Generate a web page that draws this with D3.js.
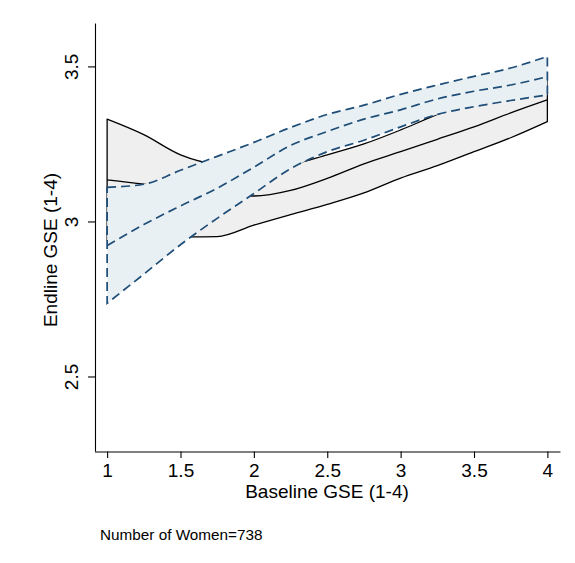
<!DOCTYPE html>
<html>
<head>
<meta charset="utf-8">
<script src="https://cdn.jsdelivr.net/npm/d3@7"></script>
<style>
  html, body { margin: 0; padding: 0; background: #ffffff; }
  svg { display: block; }
  text { font-family: "Liberation Sans", Arial, Helvetica, sans-serif; fill: #000; }
</style>
</head>
<body>
<svg id="chart" width="575" height="563"></svg>
<script>
// ---- data ----
const baseline = [1, 1.25, 1.5, 1.75, 2, 2.25, 2.5, 2.75, 3, 3.25, 3.5, 3.75, 4];
// group drawn in grey: confidence band (upper / lower) and fitted line
const greyUpper = [3.330, 3.280, 3.215, 3.185, 3.180, 3.185, 3.215, 3.250, 3.295, 3.345, 3.390, 3.425, 3.460];
const greyFit   = [3.134, 3.120, 3.100, 3.085, 3.082, 3.100, 3.139, 3.186, 3.225, 3.265, 3.305, 3.350, 3.392];
const greyLower = [2.940, 2.945, 2.950, 2.951, 2.988, 3.022, 3.055, 3.092, 3.140, 3.180, 3.225, 3.270, 3.322];
// group drawn in light blue with dashed outline
const blueUpper = [3.110, 3.120, 3.165, 3.210, 3.255, 3.303, 3.345, 3.375, 3.410, 3.440, 3.468, 3.495, 3.532];
const blueFit   = [2.922, 2.990, 3.050, 3.107, 3.175, 3.245, 3.290, 3.330, 3.360, 3.395, 3.420, 3.440, 3.467];
const blueLower = [2.736, 2.830, 2.925, 3.010, 3.090, 3.170, 3.225, 3.262, 3.305, 3.345, 3.370, 3.390, 3.408];

const xTicks = [1, 1.5, 2, 2.5, 3, 3.5, 4];
const xTickLabels = ["1", "1.5", "2", "2.5", "3", "3.5", "4"];
const yTicks = [2.5, 3, 3.5];
const yTickLabels = ["2.5", "3", "3.5"];
const xTitle = "Baseline GSE (1-4)";
const yTitle = "Endline GSE (1-4)";
const note = "Number of Women=738";

// ---- layout ----
const svg = d3.select("#chart");
const x = d3.scaleLinear().domain([0.914, 4.086]).range([94.5, 560]);
const y = d3.scaleLinear().domain([2.2597, 3.640]).range([451, 23]);

const FS = 19;

const greyRows = baseline.map((b, i) => ({ b, lo: greyLower[i], hi: greyUpper[i], fit: greyFit[i] }));
const blueRows = baseline.map((b, i) => ({ b, lo: blueLower[i], hi: blueUpper[i], fit: blueFit[i] }));

const curve = d3.curveMonotoneX;
const band = d3.area().x(d => x(d.b)).y0(d => y(d.lo)).y1(d => y(d.hi)).curve(curve);
const fitLine = d3.line().x(d => x(d.b)).y(d => y(d.fit)).curve(curve);

// closed outline of a band (upper, right edge, lower reversed, left edge)
function outline(rows) {
  const up = d3.line().x(d => x(d.b)).y(d => y(d.hi)).curve(curve)(rows);
  const lowRev = d3.line().x(d => x(d.b)).y(d => y(d.lo)).curve(curve)(rows.slice().reverse());
  return up + "L" + lowRev.slice(1) + "Z";
}

const g = svg.append("g");

// grey band
g.append("path").attr("d", band(greyRows)).attr("fill", "#efefef").attr("stroke", "none");
g.append("path").attr("d", outline(greyRows)).attr("fill", "none")
  .attr("stroke", "#000").attr("stroke-width", 1.3).attr("stroke-linejoin", "round");
g.append("path").attr("d", fitLine(greyRows)).attr("fill", "none")
  .attr("stroke", "#000").attr("stroke-width", 1.3);

// blue band
g.append("path").attr("d", band(blueRows)).attr("fill", "#e8f0f3").attr("stroke", "none");
g.append("path").attr("d", outline(blueRows)).attr("fill", "none")
  .attr("stroke", "#1e4d78").attr("stroke-width", 1.7).attr("stroke-dasharray", "9,5");
g.append("path").attr("d", fitLine(blueRows)).attr("fill", "none")
  .attr("stroke", "#1e4d78").attr("stroke-width", 1.7).attr("stroke-dasharray", "9,5");

// ---- axes ----
const xAxis = d3.axisBottom(x).tickValues(xTicks)
  .tickFormat((d, i) => xTickLabels[i]).tickSize(6.5).tickSizeOuter(0).tickPadding(6);
const gx = svg.append("g").attr("transform", "translate(0,451.5)").call(xAxis);
gx.selectAll("path, line").attr("stroke", "#000").attr("stroke-width", 1.1);
gx.selectAll("text").attr("font-size", FS).style("font-family", '"Liberation Sans", Arial, sans-serif');

const yAxis = d3.axisLeft(y).tickValues(yTicks)
  .tickFormat((d, i) => yTickLabels[i]).tickSize(7).tickSizeOuter(0);
const gy = svg.append("g").attr("transform", "translate(95,0)").call(yAxis);
gy.selectAll("path, line").attr("stroke", "#000").attr("stroke-width", 1.1);
gy.selectAll("text")
  .attr("font-size", FS).style("font-family", '"Liberation Sans", Arial, sans-serif')
  .attr("x", null).attr("dy", null)
  .attr("text-anchor", "middle")
  .attr("transform", "translate(-17.5,0) rotate(-90)");

// axis titles
svg.append("text").attr("x", 327).attr("y", 498).attr("text-anchor", "middle")
  .attr("font-size", FS).text(xTitle);
svg.append("text").attr("transform", "translate(57,250) rotate(-90)")
  .attr("text-anchor", "middle").attr("font-size", FS).text(yTitle);

// note
svg.append("text").attr("x", 100).attr("y", 539.5).attr("font-size", 15.3).text(note);
</script>
</body>
</html>
